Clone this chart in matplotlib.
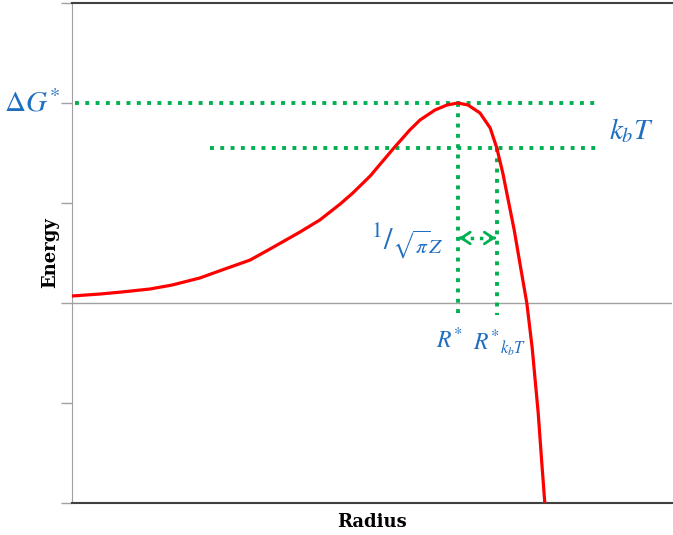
import matplotlib.pyplot as plt

plt.rcParams['mathtext.fontset'] = 'stix'

# energy curve (radius, energy)
radius = [0.0, 0.47, 0.83, 1.30, 1.67, 2.13, 2.50, 2.97, 3.33, 3.80, 4.13,
          4.47, 4.68, 4.97, 5.35, 5.63, 5.80, 6.05, 6.25, 6.43, 6.60, 6.80,
          6.97, 7.08, 7.18, 7.27, 7.37, 7.47, 7.58, 7.67, 7.77, 7.83, 7.88]
energy = [0.07, 0.09, 0.11, 0.14, 0.18, 0.25, 0.33, 0.43, 0.55, 0.71, 0.83,
          0.99, 1.10, 1.27, 1.54, 1.73, 1.83, 1.93, 1.98, 2.00, 1.98, 1.90,
          1.75, 1.55, 1.30, 1.03, 0.73, 0.38, 0.0, -0.45, -1.1, -1.6, -2.0]

r_star = 6.43
r_kbt = 7.08
dG = 2.0
kbT_level = 1.55
arrow_y = 0.65

green = '#00B050'
blue = '#1F6FC0'

fig = plt.figure(figsize=(6.73, 5.35), dpi=100)
ax = fig.add_axes([72/673, 32/535, 600/673, 500/535])

ax.plot(radius, energy, color='red', linewidth=2.3, zorder=3)
ax.axhline(0, color='#a0a0a0', linewidth=1.0, zorder=1)

# guide lines
ax.plot([0.05, 8.8], [dG, dG], color=green, linestyle=':', linewidth=2.8)
ax.plot([2.3, 8.8], [kbT_level, kbT_level], color=green, linestyle=':', linewidth=2.8)
ax.plot([r_star, r_star], [dG, -0.15], color=green, linestyle=':', linewidth=2.8)
ax.plot([r_kbt, r_kbt], [kbT_level, -0.12], color=green, linestyle=':', linewidth=2.8)

# double arrow: dotted shaft, open heads
ax.plot([r_star + 0.05, r_kbt - 0.05], [arrow_y, arrow_y], color=green,
        linestyle=':', linewidth=2.5)
head = dict(arrowstyle='->,head_length=0.45,head_width=0.3', color=green,
            linewidth=2.0, mutation_scale=14)
ax.annotate('', xy=(r_star + 0.02, arrow_y), xytext=(r_star + 0.04, arrow_y),
            arrowprops=head)
ax.annotate('', xy=(r_kbt - 0.02, arrow_y), xytext=(r_kbt - 0.04, arrow_y),
            arrowprops=head)

ax.text(-0.2, dG, r'$\mathrm{\Delta}G^{*}$', color=blue, fontsize=21,
        ha='right', va='center')
ax.text(8.95, 1.72, r'$k_bT$', color=blue, fontsize=21,
        ha='left', va='center')
ax.text(5.58, 0.62, r'$^{1}/_{\sqrt{\pi}Z}$', color=blue, fontsize=22,
        ha='center', va='center')
ax.text(r_star - 0.15, -0.37, r'$R^{*}$', color=blue, fontsize=17,
        ha='center', va='center')
ax.text(r_kbt + 0.05, -0.4, r'$R^{*}{}_{k_bT}$', color=blue, fontsize=17,
        ha='center', va='center')

ax.set_xlim(0, 10)
ax.set_ylim(-2, 3)
ax.set_xticks([])
ax.set_yticks([-2, -1, 0, 1, 2, 3])
ax.set_yticklabels([])
ax.tick_params(axis='y', length=8, color='#a0a0a0', width=1)

ax.spines['right'].set_visible(False)
ax.spines['top'].set_color('#404040')
ax.spines['bottom'].set_color('#404040')
ax.spines['left'].set_color('#a0a0a0')
ax.spines['top'].set_linewidth(1.5)
ax.spines['bottom'].set_linewidth(1.5)

ax.set_xlabel('Radius', fontfamily='DejaVu Serif', fontweight='bold',
              fontsize=13, labelpad=7)
ax.set_ylabel('Energy', fontfamily='DejaVu Serif', fontweight='bold',
              fontsize=13, labelpad=-2)

fig.savefig('out.png', dpi=100)
